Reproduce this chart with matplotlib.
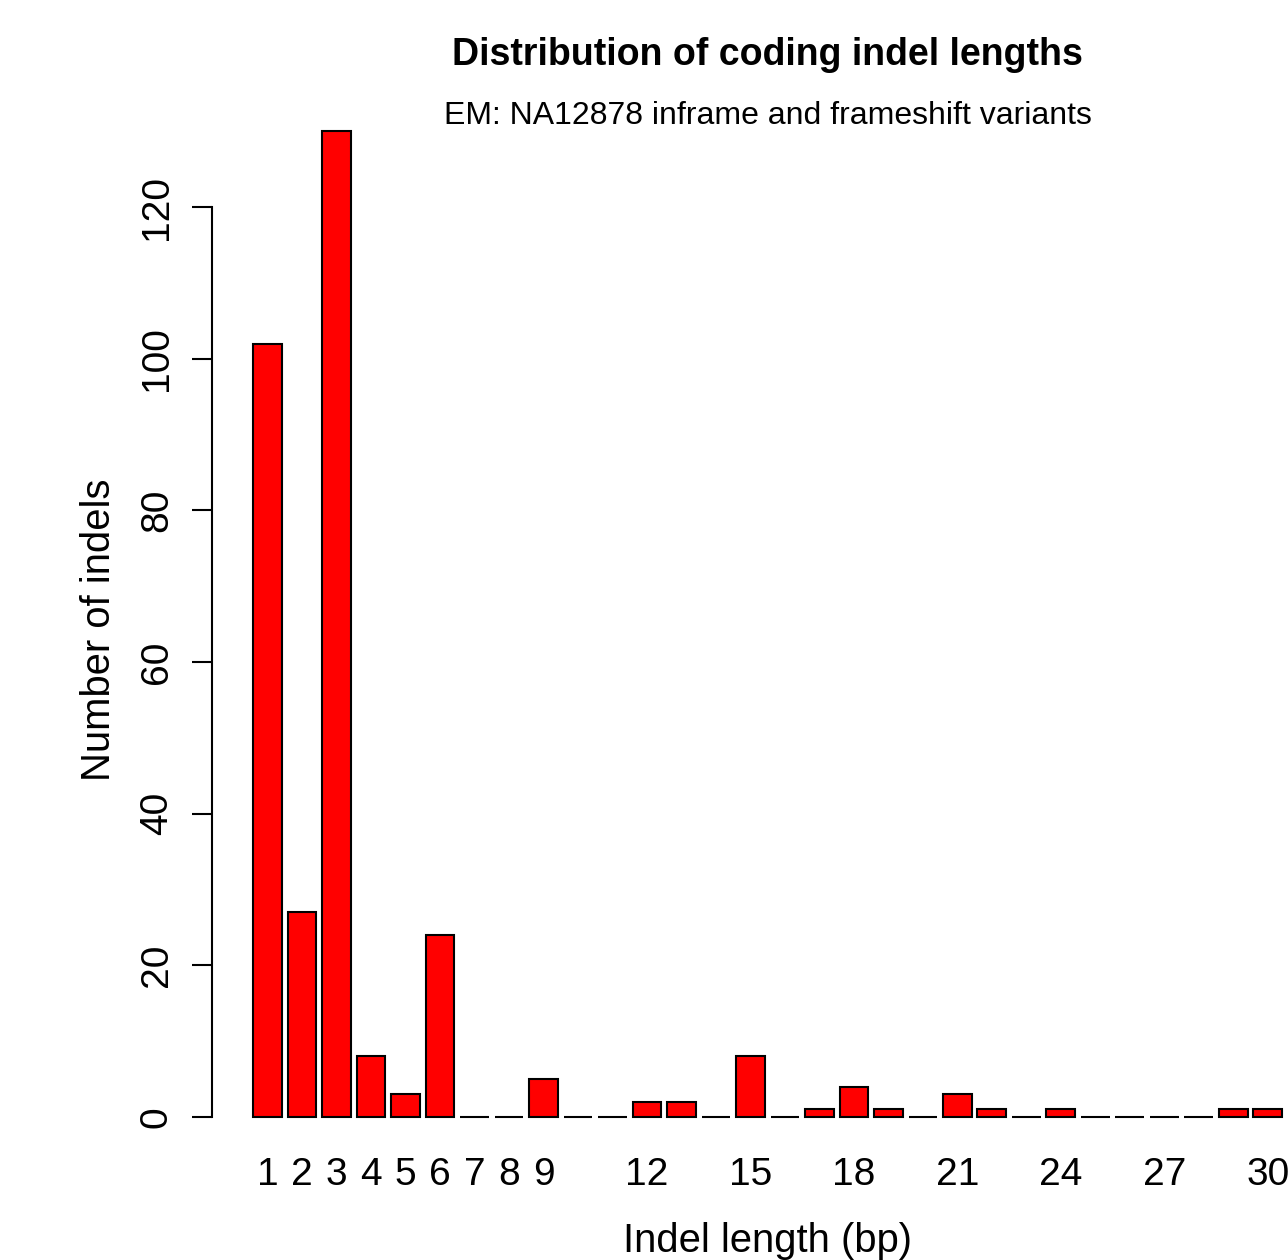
import numpy as np
import matplotlib
matplotlib.use("Agg")
import matplotlib.pyplot as plt

plt.rcParams['font.family'] = ['Liberation Sans', 'DejaVu Sans']

# indel length (bp) and counts
lengths = list(range(1, 31))
counts = [102, 27, 130, 8, 3, 24, 0, 0, 5, 0,
          0, 2, 2, 0, 8, 0, 1, 4, 1, 0,
          3, 1, 0, 1, 0, 0, 0, 0, 1, 1]
shown_labels = [1, 2, 3, 4, 5, 6, 7, 8, 9, 12, 15, 18, 21, 24, 27, 30]
y_ticks = [0, 20, 40, 60, 80, 100, 120]

title = "Distribution of coding indel lengths"
subtitle = "EM: NA12878 inframe and frameshift variants"
xlab = "Indel length (bp)"
ylab = "Number of indels"

W, H = 1288, 1260
fig = plt.figure(figsize=(W / 100, H / 100), dpi=100)

# barplot-like layout: width 1, space 0.2
n = len(lengths)
centers = 0.2 + 1.2 * np.arange(n) + 0.5
x0, x1 = 0.2, 1.2 * n
xpad = 0.04 * (x1 - x0)
y0, y1 = 0, max(counts)
ypad = 0.04 * (y1 - y0)

left_px, top_px, bottom_px = 212, 91.8, 1156.4
right_px = left_px + (x1 - x0 + 2 * xpad) * (1282 - 253) / (x1 - x0)
ax = fig.add_axes([left_px / W, 1 - bottom_px / H,
                   (right_px - left_px) / W, (bottom_px - top_px) / H])

ax.bar(centers, counts, width=1.0, color='#ff0000', edgecolor='black',
       linewidth=1.5)
ax.set_xlim(x0 - xpad, x1 + xpad)
ax.set_ylim(y0 - ypad, y1 + ypad)

for s in ['top', 'right', 'bottom']:
    ax.spines[s].set_visible(False)
ax.spines['left'].set_bounds(y_ticks[0], y_ticks[-1])
ax.spines['left'].set_linewidth(1.5)

ax.set_yticks(y_ticks)
ax.set_yticklabels([str(v) for v in y_ticks])
ax.tick_params(axis='y', length=14.4, width=1.5, pad=18, labelsize=28)
plt.setp(ax.get_yticklabels(), rotation=90, rotation_mode='anchor',
         ha='center', va='baseline')

idx = [lengths.index(v) for v in shown_labels]
ax.set_xticks(centers[idx])
ax.set_xticklabels([str(v) for v in shown_labels])
ax.tick_params(axis='x', length=0, pad=20.6, labelsize=28)
plt.setp(ax.get_xticklabels(), va='baseline')

cx = (left_px + right_px) / 2 / W
fig.text(cx, 1 - 65 / H, title, ha='center', va='baseline',
         fontsize=27, fontweight='bold')
fig.text(cx, 1 - 124 / H, subtitle, ha='center', va='baseline', fontsize=23)
fig.text(cx, 1 - 1252 / H, xlab, ha='center', va='baseline', fontsize=28.8)
fig.text(110 / W, 1 - 630 / H, ylab, ha='center',
         va='baseline', rotation=90, rotation_mode='anchor', fontsize=28.8)

fig.savefig("out.png", dpi=100)
